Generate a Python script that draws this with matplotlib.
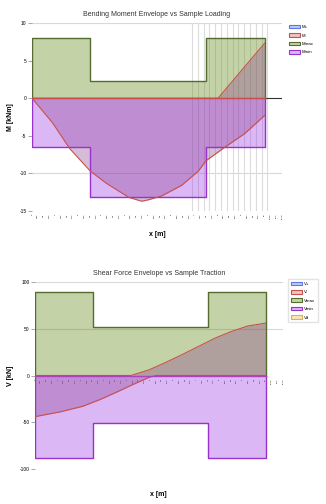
import numpy as np
import matplotlib
matplotlib.use("Agg")
from matplotlib import pyplot as plt
from matplotlib.patches import Patch

plt.rcParams['font.family'] = ['Liberation Sans', 'DejaVu Sans']

# ---------------------------------------------------------------
# data
# ---------------------------------------------------------------
seg_edges = [0.0, 2.5, 7.5, 10.0]

top_upper = [8.0, 2.3, 8.0]
top_lower = [-6.5, -13.1, -6.5]
top_min_x = [0.0, 0.89, 1.62, 2.51, 3.19, 4.17, 4.72, 5.02, 5.57, 6.43, 7.15, 7.49, 8.3, 9.15, 10.0]
top_min_y = [0.0, -3.3, -6.7, -9.7, -11.3, -13.2, -13.7, -13.5, -13.0, -11.6, -9.7, -8.3, -6.5, -4.7, -2.3]
top_max_x = [0.0, 8.0, 10.0]
top_max_y = [0.0, 0.0, 7.3]
top_legend = ['M+', 'M-', 'Mmax', 'Mmin']

bot_upper = [89, 52, 89]
bot_lower = [-88, -51, -88]
bot_min_x = [0.0, 1.07, 2.06, 2.79, 3.52, 4.21, 4.94, 5.24, 10.0]
bot_min_y = [-44, -39, -33, -26, -18, -10, -2, 0, 0]
bot_max_x = [0.0, 4.16, 4.94, 5.67, 6.35, 7.08, 7.81, 8.5, 9.23, 10.0]
bot_max_y = [0, 0, 6, 14, 22, 31, 40, 47, 53, 56]
bot_legend = ['V+', 'V-', 'Vmax', 'Vmin', 'Vd']

top_yticks = [10, 5, 0, -5, -10, -15]
bot_yticks = [100, 50, 0, -50, -100]
x_ticks = np.arange(0, 10.76, 0.25)
top_vgrid = np.arange(6.875, 10.2, 0.25)

# colours
green_fc = (0.42, 0.56, 0.14, 0.40)
green_ec = '#556b2f'
purple_fc = (0.60, 0.20, 0.90, 0.35)
purple_ec = '#9932cc'
red_fc = (0.55, 0.25, 0.55, 0.35)
red_ec = '#c8504d'
blue_fc = (0.45, 0.55, 0.95, 0.45)
blue_ec = '#5a78e0'
yellow_fc = (0.95, 0.80, 0.45, 0.5)
yellow_ec = '#d8b060'

W, H = 326, 504
fig = plt.figure(figsize=(W / 100, H / 100), dpi=100)


def px_axes(l, t, r, b):
    return fig.add_axes([l / W, 1 - b / H, (r - l) / W, (b - t) / H])


def step_xy(vals):
    xs = [seg_edges[0]]
    ys = [0]
    for i, v in enumerate(vals):
        xs += [seg_edges[i], seg_edges[i + 1]]
        ys += [v, v]
    xs.append(seg_edges[-1])
    ys.append(0)
    return xs, ys


def draw_limits(ax, upper, lower):
    for vals, fc, ec in ((upper, green_fc, green_ec), (lower, purple_fc, purple_ec)):
        xs, ys = step_xy(vals)
        ax.fill(xs, ys, color=fc, lw=0, zorder=2)
        ax.plot(xs, ys, color=ec, lw=1.0, zorder=4)


def draw_curve(ax, x, y):
    ax.fill_between(x, 0, y, color=red_fc, lw=0, zorder=3)
    ax.plot(x, y, color=red_ec, lw=0.8, zorder=5)


def style(ax, ylim, yticks, gridy):
    ax.set_xlim(0, 10.64)
    ax.set_ylim(*ylim)
    for s in ax.spines.values():
        s.set_visible(False)
    ax.set_yticks(yticks)
    ax.set_yticklabels([str(t) for t in yticks], fontsize=3.5)
    ax.tick_params(axis='y', length=3, width=0.6, color='#999999', pad=1)
    ax.set_xticks(x_ticks)
    ax.set_xticklabels([f'{t:g}' for t in x_ticks], fontsize=1.6, rotation=90)
    ax.tick_params(axis='x', length=0, pad=2)
    for g in gridy:
        ax.axhline(g, color='#d8d8d8', lw=0.8, zorder=1)


# ---------------------------------------------------------------
# top chart
# ---------------------------------------------------------------
ax1 = px_axes(32, 23, 282, 211)
style(ax1, (-15, 10), top_yticks, [10, -10])
for g in top_vgrid:
    ax1.axvline(g, color='#dcdcdc', lw=0.8, zorder=1)
ax1.axhline(0, color='#333333', lw=0.8, zorder=1)
draw_limits(ax1, top_upper, top_lower)
draw_curve(ax1, top_min_x, top_min_y)
draw_curve(ax1, top_max_x, top_max_y)
ax1.plot([0, 10], [0, 0], color=red_ec, lw=1.0, zorder=6)
ax1.set_title('Bending Moment Envelope vs Sample Loading', fontsize=5, pad=5,
              color='#333333')
ax1.set_ylabel('M [kNm]', fontsize=5, fontweight='bold', labelpad=4)
ax1.set_xlabel('x [m]', fontsize=5, fontweight='bold', labelpad=8)

h1 = [Patch(facecolor=blue_fc, edgecolor=blue_ec, lw=0.8),
      Patch(facecolor=(0.85, 0.4, 0.4, 0.4), edgecolor=red_ec, lw=0.8),
      Patch(facecolor=green_fc, edgecolor=green_ec, lw=0.8),
      Patch(facecolor=purple_fc, edgecolor=purple_ec, lw=0.8)]
fig.legend(h1, top_legend, loc='upper left', bbox_to_anchor=(287 / W, 1 - 23 / H),
           fontsize=3.2, frameon=False, handlelength=2.6, handleheight=0.9,
           labelspacing=0.9, handletextpad=0.4, borderaxespad=0)

# ---------------------------------------------------------------
# bottom chart
# ---------------------------------------------------------------
ax2 = px_axes(35, 282, 283, 469)
ax2.spines['bottom'].set_position(('data', 0))
style(ax2, (-100, 100), bot_yticks, [100, 50])
draw_limits(ax2, bot_upper, bot_lower)
draw_curve(ax2, bot_min_x, bot_min_y)
draw_curve(ax2, bot_max_x, bot_max_y)
ax2.plot([0, 10], [0, 0], color='#b040c0', lw=1.0, zorder=6)
ax2.set_title('Shear Force Envelope vs Sample Traction', fontsize=5, pad=5,
              color='#333333')
ax2.set_ylabel('V [kN]', fontsize=5, fontweight='bold', labelpad=4)
fig.text(158 / W, 1 - 494 / H, 'x [m]', fontsize=5, fontweight='bold',
         ha='center', va='center')

h2 = h1 + [Patch(facecolor=yellow_fc, edgecolor=yellow_ec, lw=0.8)]
fig.legend(h2, bot_legend, loc='upper left', bbox_to_anchor=(288 / W, 1 - 279 / H),
           fontsize=3.2, frameon=True, edgecolor='#dddddd', fancybox=False,
           handlelength=2.6, handleheight=0.9, labelspacing=0.9,
           handletextpad=0.4, borderaxespad=0, borderpad=0.6)

fig.savefig('out.png', dpi=100)
